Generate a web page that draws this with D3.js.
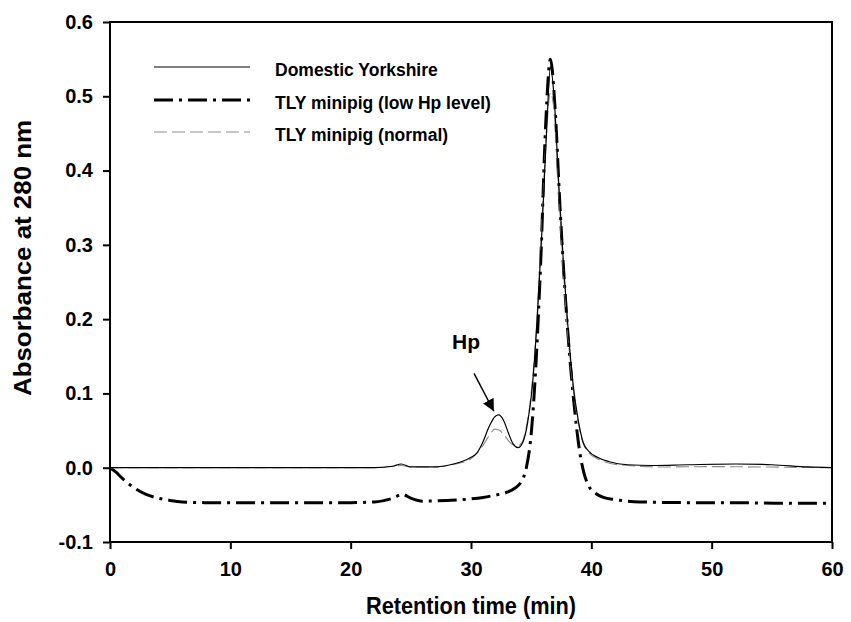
<!DOCTYPE html>
<html>
<head>
<meta charset="utf-8">
<script src="https://cdn.jsdelivr.net/npm/d3@7/dist/d3.min.js"></script>
<style>
  html, body { margin: 0; padding: 0; background: #fff; }
  svg { display: block; }
  text { font-family: "Liberation Sans", Arial, sans-serif; font-weight: bold; fill: #000; }
</style>
</head>
<body>
<svg id="chart" width="851" height="622"></svg>
<script>
// ---- Data ----
const xTicks = [0, 10, 20, 30, 40, 50, 60];
const yTicks = [-0.1, 0.0, 0.1, 0.2, 0.3, 0.4, 0.5, 0.6];
const yTickLabels = ["-0.1", "0.0", "0.1", "0.2", "0.3", "0.4", "0.5", "0.6"];

const seriesNames = ["Domestic Yorkshire", "TLY minipig (low Hp level)", "TLY minipig (normal)"];

// Domestic Yorkshire (solid)
const domesticTime = [0, 5, 10, 15, 20, 22, 23.5, 24.2, 25, 27, 28, 29, 30, 30.5, 31, 31.5, 32, 32.3, 32.7, 33.1, 33.5, 33.9, 34.3, 34.7, 35.1, 35.5, 35.9, 36.3, 36.6, 36.9, 37.3, 37.7, 38.1, 38.5, 38.9, 39.3, 39.8, 40.5, 41.5, 43, 45, 48, 52, 55, 58, 60];
const domesticAbs  = [0, 0, 0, 0, 0, 0, 0.002, 0.005, 0.001, 0.001, 0.003, 0.007, 0.014, 0.020, 0.035, 0.055, 0.069, 0.071, 0.064, 0.047, 0.032, 0.027, 0.034, 0.060, 0.110, 0.200, 0.320, 0.460, 0.540, 0.500, 0.380, 0.270, 0.180, 0.110, 0.065, 0.035, 0.022, 0.014, 0.008, 0.004, 0.003, 0.004, 0.005, 0.004, 0.001, 0];

// TLY minipig (low Hp level) (thick dash-dot)
const lowHpTime = [0, 0.5, 1, 1.5, 2, 3, 4, 5, 6, 8, 12, 16, 20, 22, 23.5, 24.3, 25, 26, 28, 30, 31, 32, 33, 33.6, 34.2, 34.6, 35.0, 35.4, 35.8, 36.2, 36.6, 37.0, 37.4, 37.8, 38.2, 38.6, 39.0, 39.4, 39.8, 40.4, 41, 42, 44, 48, 52, 56, 60];
const lowHpAbs  = [0, -0.006, -0.014, -0.021, -0.027, -0.036, -0.041, -0.044, -0.046, -0.047, -0.047, -0.047, -0.047, -0.046, -0.041, -0.036, -0.041, -0.045, -0.044, -0.042, -0.040, -0.037, -0.033, -0.028, -0.018, 0.000, 0.045, 0.140, 0.280, 0.460, 0.550, 0.480, 0.350, 0.240, 0.150, 0.080, 0.025, -0.008, -0.025, -0.035, -0.040, -0.043, -0.046, -0.047, -0.047, -0.048, -0.048];

// TLY minipig (normal) (grey dashed)
const normalTime = [0, 5, 10, 15, 20, 22, 23.5, 24.2, 25, 27, 28, 29, 30, 31, 31.5, 32, 32.4, 32.8, 33.3, 33.8, 34.2, 34.6, 35.0, 35.4, 35.8, 36.2, 36.6, 36.9, 37.3, 37.7, 38.1, 38.5, 38.9, 39.3, 39.8, 40.5, 41.5, 43, 46, 50, 54, 60];
const normalAbs  = [0, 0, 0, 0, 0, 0, 0.002, 0.003, 0.001, 0.001, 0.003, 0.006, 0.012, 0.030, 0.043, 0.052, 0.050, 0.043, 0.033, 0.029, 0.033, 0.055, 0.100, 0.180, 0.300, 0.430, 0.505, 0.480, 0.370, 0.260, 0.170, 0.105, 0.062, 0.034, 0.020, 0.012, 0.006, 0.003, 0.001, 0.0015, 0.001, 0];

// ---- Layout ----
const svg = d3.select("#chart");
const mLeft = 110, mRight = 832, mTop = 22, mBottom = 542;

const x = d3.scaleLinear().domain([0, 60]).range([mLeft, mRight]);
const y = d3.scaleLinear().domain([-0.1, 0.6]).range([mBottom, mTop]);

const toPts = (t, v) => t.map((d, i) => [d, v[i]]);
const line = d3.line().x(d => x(d[0])).y(d => y(d[1])).curve(d3.curveMonotoneX);

const styles = [
  { stroke: "#000", width: 1.2, dash: null },
  { stroke: "#000", width: 3, dash: "19,6,3,6" },
  { stroke: "#8c8c8c", width: 1.1, dash: "13,5" }
];

const plot = svg.append("g");
plot.append("path").datum(toPts(lowHpTime, lowHpAbs)).attr("d", line)
  .attr("fill", "none").attr("stroke", styles[1].stroke).attr("stroke-width", styles[1].width)
  .attr("stroke-dasharray", styles[1].dash);
plot.append("path").datum(toPts(normalTime, normalAbs)).attr("d", line)
  .attr("fill", "none").attr("stroke", styles[2].stroke).attr("stroke-width", styles[2].width)
  .attr("stroke-dasharray", styles[2].dash);
plot.append("path").datum(toPts(domesticTime, domesticAbs)).attr("d", line)
  .attr("fill", "none").attr("stroke", styles[0].stroke).attr("stroke-width", styles[0].width);

// ---- Frame & axes ----
svg.append("rect").attr("x", mLeft).attr("y", mTop).attr("width", mRight - mLeft).attr("height", mBottom - mTop)
  .attr("fill", "none").attr("stroke", "#000").attr("stroke-width", 2);

const xAxis = svg.append("g").attr("transform", `translate(0,${mBottom})`)
  .call(d3.axisBottom(x).tickValues(xTicks).tickSize(7).tickPadding(13).tickFormat(d3.format("d")));
const yAxis = svg.append("g").attr("transform", `translate(${mLeft},0)`)
  .call(d3.axisLeft(y).tickValues(yTicks).tickSize(7).tickPadding(10).tickFormat((d, i) => yTickLabels[i]));

[xAxis, yAxis].forEach(a => {
  a.select(".domain").remove();
  a.selectAll(".tick line").attr("stroke", "#000").attr("stroke-width", 2);
  a.selectAll(".tick text").style("font-family", "'Liberation Sans', Arial, sans-serif")
    .style("font-weight", "bold").style("font-size", "20px").attr("fill", "#000");
});

// ---- Axis titles ----
svg.append("text").attr("x", (mLeft + mRight) / 2).attr("y", 614).attr("text-anchor", "middle")
  .style("font-size", "23px").attr("textLength", 210).attr("lengthAdjust", "spacingAndGlyphs")
  .text("Retention time (min)");
svg.append("text").attr("transform", "translate(31,258) rotate(-90)").attr("text-anchor", "middle")
  .style("font-size", "23px").attr("textLength", 276).attr("lengthAdjust", "spacingAndGlyphs")
  .text("Absorbance at 280 nm");

// ---- Legend ----
const legY = [67, 100, 132];
[0, 1, 2].forEach((k, i) => {
  const s = styles[k];
  svg.append("line").attr("x1", 154).attr("x2", 250).attr("y1", legY[i]).attr("y2", legY[i])
    .attr("stroke", s.stroke).attr("stroke-width", s.width).attr("stroke-dasharray", s.dash);
  svg.append("text").attr("x", 275).attr("y", legY[i] + 9).style("font-size", "17.5px")
    .text(seriesNames[k]);
});

// ---- Hp annotation ----
svg.append("defs").append("marker").attr("id", "arrow").attr("viewBox", "0 0 10 10")
  .attr("refX", 10).attr("refY", 5).attr("markerWidth", 12).attr("markerHeight", 12)
  .attr("markerUnits", "userSpaceOnUse").attr("orient", "auto")
  .append("path").attr("d", "M0,0 L10,5 L0,10 Z").attr("fill", "#000");
svg.append("text").attr("x", 466).attr("y", 349).attr("text-anchor", "middle").style("font-size", "21px").text("Hp");
svg.append("line").attr("x1", x(30.25)).attr("y1", y(0.127)).attr("x2", x(31.9)).attr("y2", y(0.076))
  .attr("stroke", "#000").attr("stroke-width", 1.5).attr("marker-end", "url(#arrow)");
</script>
</body>
</html>
